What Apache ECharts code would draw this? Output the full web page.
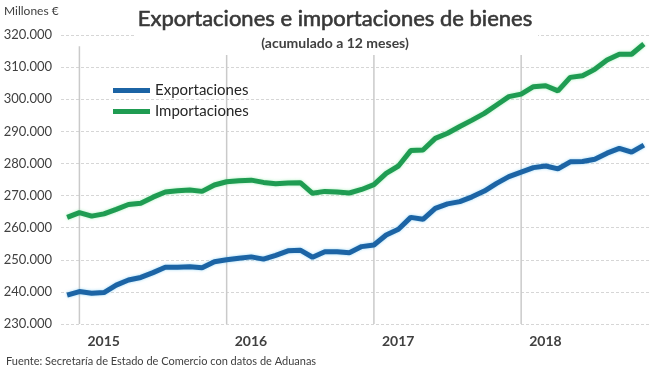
<!DOCTYPE html>
<html>
<head>
<meta charset="utf-8">
<script src="https://cdn.jsdelivr.net/npm/echarts@6/dist/echarts.min.js"></script>
<style>
  html, body { margin: 0; padding: 0; background: #fff; }
  #main { width: 670px; height: 376px; }
</style>
</head>
<body>
<div id="main"></div>
<script>
  // meses (dic 2014 - nov 2018)
  const months = [
    '2014-12',
    '2015-01','2015-02','2015-03','2015-04','2015-05','2015-06','2015-07','2015-08','2015-09','2015-10','2015-11','2015-12',
    '2016-01','2016-02','2016-03','2016-04','2016-05','2016-06','2016-07','2016-08','2016-09','2016-10','2016-11','2016-12',
    '2017-01','2017-02','2017-03','2017-04','2017-05','2017-06','2017-07','2017-08','2017-09','2017-10','2017-11','2017-12',
    '2018-01','2018-02','2018-03','2018-04','2018-05','2018-06','2018-07','2018-08','2018-09','2018-10','2018-11'
  ];

  // millones de euros, acumulado 12 meses
  const exportaciones = [
    239000,
    240100, 239600, 239800, 242100, 243700, 244500, 246000, 247700, 247700, 247800, 247500, 249400,
    250000, 250500, 250900, 250200, 251400, 252800, 253000, 250800, 252500, 252500, 252200, 254100,
    254600, 257700, 259500, 263200, 262600, 266000, 267400, 268100, 269600, 271400, 273800, 275900,
    277300, 278700, 279200, 278300, 280500, 280600, 281300, 283200, 284700, 283500, 285700
  ];
  const importaciones = [
    263200,
    264700, 263600, 264300, 265700, 267200, 267600, 269500, 271100, 271500, 271700, 271300, 273300,
    274300, 274600, 274800, 274100, 273700, 273900, 274000, 270700, 271300, 271100, 270800, 271900,
    273400, 276900, 279200, 284000, 284200, 287800, 289400, 291500, 293500, 295600, 298200, 300800,
    301600, 303900, 304200, 302600, 306800, 307300, 309300, 312200, 314000, 314000, 317200
  ];

  const yearStarts = ['2015-01', '2016-01', '2017-01', '2018-01'];

  const FONT = 'Lato';
  const TXT = '#404040';

  // separadores verticales de año (segmentos cortados con '-')
  let yearLines = [];
  yearStarts.forEach(m => {
    yearLines.push([m, 316500], [m, 230000], '-');
  });

  let myChart = echarts.init(document.getElementById('main'));

  let option = {
    backgroundColor: '#fff',
    animation: false,
    textStyle: { fontFamily: FONT },
    title: {
      text: 'Exportaciones e importaciones de bienes',
      subtext: '(acumulado a 12 meses)',
      left: 'center',
      top: 3,
      itemGap: 6,
      z: 10,
      textStyle: { fontFamily: FONT, fontSize: 22, fontWeight: 'normal', color: '#383838',
        textBorderColor: '#383838', textBorderWidth: 0.6 },
      subtextStyle: { fontFamily: FONT, fontSize: 14, fontWeight: 'bold', color: '#404040' }
    },
    legend: {
      orient: 'vertical',
      left: 108,
      top: 78,
      icon: 'rect',
      itemWidth: 37,
      itemHeight: 5,
      itemGap: 6,
      textStyle: { fontFamily: FONT, fontSize: 15, color: '#262626' },
      data: ['Exportaciones', 'Importaciones']
    },
    grid: { left: 61, right: 20, top: 35, bottom: 52 },
    xAxis: {
      type: 'category',
      data: months,
      boundaryGap: true,
      axisLine: { show: false },
      axisTick: { show: false },
      splitLine: { show: false },
      axisLabel: {
        interval: (idx, val) => yearStarts.indexOf(val) >= 0,
        formatter: val => val.slice(0, 4),
        align: 'left',
        padding: [0, 0, 0, 8],
        margin: 10,
        fontFamily: FONT,
        fontSize: 14,
        fontWeight: 'bold',
        color: TXT
      }
    },
    yAxis: {
      type: 'value',
      min: 230000,
      max: 320000,
      interval: 10000,
      axisLine: { show: false },
      axisTick: { show: false },
      axisLabel: {
        margin: 9,
        fontFamily: FONT,
        fontSize: 13,
        color: TXT,
        formatter: v => Math.round(v / 1000) + '.000'
      },
      splitLine: { lineStyle: { color: '#d6d6d6', type: [3, 2], width: 1 } }
    },
    graphic: [
      { type: 'rect', left: 136, top: 0, z: 5, shape: { width: 402, height: 55 }, style: { fill: '#fff' } },
      { type: 'text', left: 4, top: 5, z: 10, style: { text: 'Millones €', font: '12px Lato', fill: TXT } },
      { type: 'text', left: 6, top: 356, z: 10,
        style: { text: 'Fuente: Secretaría de Estado de Comercio con datos de Aduanas', font: '11px Lato', fill: TXT } }
    ],
    series: [
      {
        name: 'años',
        type: 'line',
        data: yearLines,
        symbol: 'none',
        silent: true,
        lineStyle: { color: '#cacaca', width: 1.5 },
        z: 1
      },
      {
        name: 'Exportaciones',
        type: 'line',
        data: exportaciones,
        symbol: 'none',
        color: '#1c64a5',
        lineStyle: { width: 5, color: '#1c64a5', shadowColor: 'rgba(90,190,240,0.6)', shadowBlur: 3 },
        z: 3
      },
      {
        name: 'Importaciones',
        type: 'line',
        data: importaciones,
        symbol: 'none',
        color: '#1f9c52',
        lineStyle: { width: 5, color: '#1f9c52', shadowColor: 'rgba(110,230,140,0.6)', shadowBlur: 3 },
        z: 3
      }
    ]
  };

  myChart.setOption(option);
</script>
</body>
</html>
